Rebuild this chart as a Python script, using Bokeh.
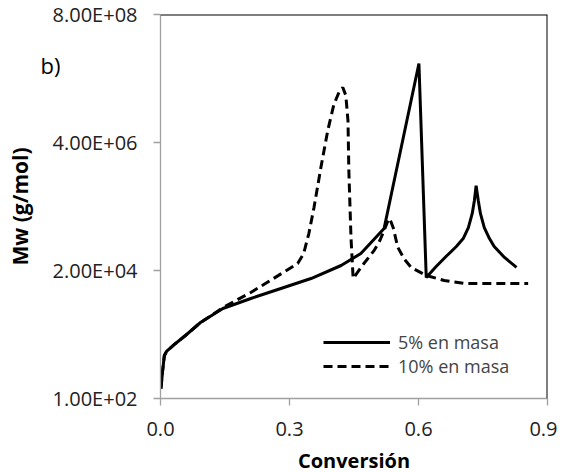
from bokeh.plotting import figure
from bokeh.models import FixedTicker, Legend, LegendItem, Span, LogAxis
from bokeh.embed import file_html
from bokeh.resources import INLINE

# --- data ---
solid_x = [0.001, 0.005, 0.009, 0.014, 0.035, 0.058, 0.093, 0.145, 0.21, 0.28, 0.35, 0.42,
           0.466, 0.52, 0.601, 0.618, 0.641, 0.664, 0.688, 0.704, 0.716, 0.725, 0.730, 0.734,
           0.739, 0.744, 0.753, 0.765, 0.776, 0.800, 0.828]
solid_y = [151, 319, 593, 700, 975, 1357, 2324, 4150, 6280, 9490, 14360, 24600,
           40400, 1.14e5, 1.05e8, 1.5e4, 2.36e4, 3.57e4, 5.4e4, 7.5e4, 1.18e5, 2.12e5, 3.62e5, 6.7e5,
           3.62e5, 2.12e5, 1.18e5, 7.5e4, 5.4e4, 3.43e4, 2.27e4]

dash_x = [0.001, 0.005, 0.009, 0.014, 0.035, 0.058, 0.093, 0.145, 0.21, 0.263, 0.319, 0.333,
          0.345, 0.357, 0.373, 0.389, 0.403, 0.415, 0.424, 0.431, 0.436, 0.438, 0.443, 0.448,
          0.473, 0.497, 0.510, 0.520, 0.531, 0.536, 0.541, 0.552, 0.567, 0.583, 0.618, 0.660,
          0.706, 0.855]
dash_y = [151, 319, 593, 700, 975, 1357, 2324, 4300, 8050, 14400, 26700, 40400,
          92500, 2.72e5, 1.42e6, 6.6e6, 1.9e7, 3.2e7, 3.9e7, 2.8e7, 9.9e6, 1.26e6, 7.8e4, 1.44e4,
          2.67e4, 4.6e4, 6.9e4, 1.05e5, 1.72e5, 1.5e5, 1.19e5, 5.2e4, 3.2e4, 2.26e4, 1.63e4, 1.32e4,
          1.17e4, 1.17e4]

x_ticks = [0.0, 0.3, 0.6, 0.9]
x_tick_labels = ["0.0", "0.3", "0.6", "0.9"]
y_ticks = [1e2, 2e4, 4e6, 8e8]
y_tick_labels = ["1.00E+02", "2.00E+04", "4.00E+06", "8.00E+08"]
series_names = ["5% en masa", "10% en masa"]
panel_tag = "b)"

FONT = "Open Sans"
AXIS_GRAY = "#A0A0A0"
TAG_LEVEL = 1e8  # vertical placement of the panel tag

p = figure(frame_width=387, frame_height=384, output_backend="svg", toolbar_location=None,
           x_range=(0, 0.9), y_range=(1e2, 8e8), y_axis_type="log",
           min_border_left=160, min_border_right=10, min_border_top=14, min_border_bottom=70)

p.xgrid.visible = False
p.ygrid.visible = False
p.outline_line_color = None
p.background_fill_color = "white"
p.border_fill_color = "white"

p.add_layout(Span(location=8e8, dimension="width", line_color="black", line_width=2))
p.add_layout(Span(location=0.9, dimension="height", line_color="black", line_width=2))

r1 = p.line(solid_x, solid_y, line_color="black", line_width=3)
r2 = p.line(dash_x, dash_y, line_color="black", line_width=3, line_dash="9 5")

for ax in (p.xaxis[0], p.yaxis[0]):
    ax.axis_line_color = AXIS_GRAY
    ax.axis_line_width = 1.3
    ax.major_tick_line_color = AXIS_GRAY
    ax.major_tick_line_width = 1.3
    ax.major_tick_in = 0
    ax.major_tick_out = 7
    ax.minor_tick_line_color = None
    ax.major_label_text_font = FONT
    ax.major_label_text_font_size = "20px"
    ax.major_label_text_color = "#222222"
    ax.axis_label_text_font = FONT
    ax.axis_label_text_font_style = "bold"
    ax.axis_label_text_color = "black"

p.xaxis.ticker = FixedTicker(ticks=x_ticks)
p.xaxis.major_label_overrides = {t: l for t, l in zip(x_ticks, x_tick_labels)}
p.xaxis.major_label_standoff = 16
p.xaxis.axis_label = "Conversión"
p.xaxis.axis_label_text_font_size = "20px"
p.xaxis.axis_label_standoff = 8

p.yaxis.ticker = FixedTicker(ticks=y_ticks)
p.yaxis.major_label_overrides = {t: l for t, l in zip(y_ticks, y_tick_labels)}
p.yaxis.major_label_standoff = 16

# outer left axis: carries the panel tag "b)" and the axis title
tag_axis = LogAxis(ticker=FixedTicker(ticks=[TAG_LEVEL]),
                   major_label_overrides={TAG_LEVEL: panel_tag},
                   axis_line_color=None, major_tick_line_color=None, minor_tick_line_color=None,
                   major_tick_in=0, major_tick_out=0, major_label_standoff=-11,
                   major_label_text_font=FONT, major_label_text_font_size="22px",
                   major_label_text_color="black",
                   axis_label="Mw (g/mol)", axis_label_text_font=FONT,
                   axis_label_text_font_style="bold", axis_label_text_font_size="21px",
                   axis_label_text_color="black", axis_label_standoff=4)
p.add_layout(tag_axis, "left")

legend = Legend(items=[LegendItem(label=series_names[0], renderers=[r1]),
                       LegendItem(label=series_names[1], renderers=[r2])],
                location=(163, 20), orientation="vertical",
                background_fill_alpha=0, border_line_color=None,
                padding=0, margin=0, spacing=0,
                glyph_width=67, glyph_height=24, label_height=24,
                label_standoff=8, label_text_font=FONT, label_text_font_size="18px")
p.add_layout(legend, "center")

open("out.html", "w").write(file_html(p, INLINE))
